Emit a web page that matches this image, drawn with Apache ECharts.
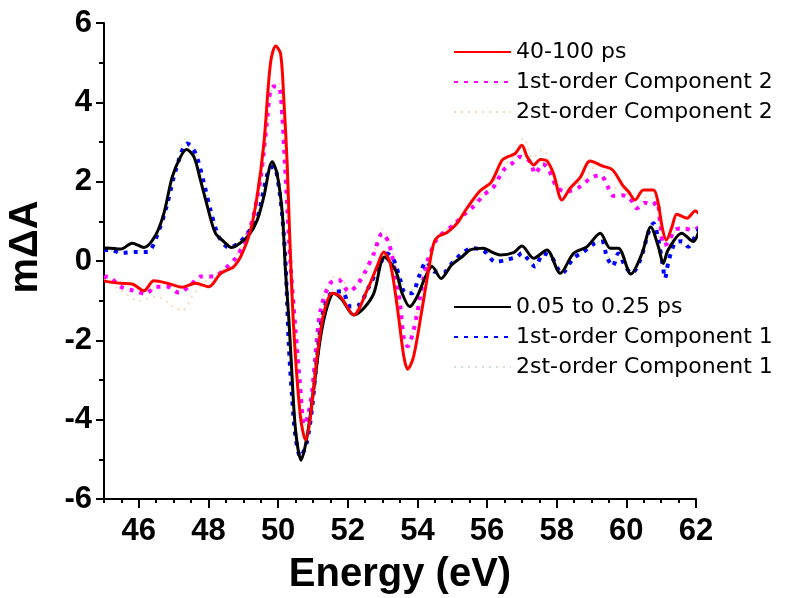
<!DOCTYPE html>
<html>
<head>
<meta charset="utf-8">
<script src="https://cdn.jsdelivr.net/npm/echarts@6/dist/echarts.min.js"></script>
<style>
  html, body { margin: 0; padding: 0; background: #fff; }
  #chart { width: 788px; height: 598px; }
</style>
</head>
<body>
<div id="chart"></div>
<script>
// Transient absorption spectra (mΔA vs photon energy) and fitted components

// 40-100 ps spectrum
const eLate = [45.0,45.1,45.48,45.81,46.15,46.43,46.82,47.25,47.63,48.01,48.35,48.73,48.97,49.21,49.4,49.59,49.78,49.93,50.07,50.16,50.26,50.33,50.45,50.64,50.79,50.93,51.12,51.31,51.55,51.79,52.17,52.56,52.84,53.03,53.22,53.42,53.61,53.72,53.89,54.13,54.32,54.47,54.6,54.85,55.14,55.42,55.8,56.12,56.43,56.6,56.81,57.0,57.15,57.34,57.53,57.72,57.91,58.15,58.39,58.67,58.96,59.3,59.6,59.9,60.06,60.25,60.49,60.78,60.9,61.04,61.15,61.31,61.45,61.74,61.98,62.12];
const vLate = [-0.5,-0.52,-0.56,-0.58,-0.75,-0.5,-0.56,-0.66,-0.56,-0.65,-0.31,-0.14,0.19,0.78,1.65,2.95,4.98,5.42,5.23,4.14,2.46,0.7,-1.74,-3.92,-4.51,-3.92,-2.41,-1.32,-0.81,-0.9,-1.36,-0.73,-0.14,0.23,-0.06,-1.15,-2.41,-2.73,-2.41,-1.23,-0.23,0.45,0.62,0.72,0.95,1.33,1.77,1.99,2.54,2.63,2.71,2.92,2.63,2.42,2.56,2.52,2.2,1.54,1.84,2.1,2.52,2.4,2.3,1.9,1.75,1.54,1.79,1.79,1.52,0.8,0.53,0.86,1.18,1.08,1.26,1.16];

// 1st-order Component 2
const eC2 = [45.0,45.1,45.48,45.86,46.2,46.48,46.82,47.15,47.49,47.77,48.16,48.49,48.78,49.02,49.26,49.4,49.5,49.6,49.7,49.78,49.88,50.03,50.12,50.18,50.26,50.35,50.5,50.62,50.75,50.87,50.98,51.07,51.22,51.5,51.74,52.03,52.27,52.5,52.75,52.99,53.18,53.37,53.51,53.61,53.72,53.89,54.08,54.27,54.52,54.66,55.04,55.33,55.61,55.9,56.19,56.47,56.72,56.95,57.24,57.38,57.6,57.77,58.0,58.24,58.67,58.96,59.25,59.49,59.63,59.87,60.1,60.3,60.54,60.73,60.88,60.97,61.07,61.2,61.39,61.63,61.92,62.12];
const vC2 = [-0.42,-0.39,-0.65,-0.75,-0.83,-0.65,-0.65,-0.8,-0.6,-0.39,-0.39,-0.18,0.07,0.45,1.03,1.6,2.1,2.85,3.7,4.3,4.4,4.38,3.63,2.7,1.4,0.0,-1.74,-3.0,-4.13,-3.85,-3.25,-2.41,-1.23,-0.56,-0.48,-0.77,-0.6,-0.27,0.19,0.7,0.45,-0.31,-1.15,-1.95,-2.15,-1.74,-0.9,-0.06,0.5,0.65,0.91,1.16,1.37,1.66,1.87,2.29,2.46,2.63,2.5,2.2,2.45,2.3,1.87,1.75,1.87,2.08,2.17,1.83,1.64,1.66,1.58,1.33,1.47,1.41,1.49,0.95,0.4,0.45,0.78,0.82,0.78,0.88];

// 2st-order Component 2
const eC2b = [45.0,45.5,46.0,46.5,47.0,47.25,47.6,48.0,48.5,49.0,49.3,49.5,49.7,49.9,50.05,50.2,50.35,50.5,50.7,50.8,51.0,51.2,51.5,51.75,52.05,52.3,52.55,52.8,53.0,53.2,53.4,53.6,53.75,53.9,54.1,54.3,54.55,54.9,55.3,55.6,55.9,56.2,56.5,56.8,57.05,57.3,57.6,57.8,58.0,58.3,58.7,59.0,59.25,59.5,59.9,60.2,60.5,60.85,61.05,61.2,61.5,61.9,62.1];
const vC2b = [-0.45,-0.75,-1.0,-0.9,-1.15,-1.25,-0.8,-0.45,-0.15,0.45,1.1,2.0,3.6,4.5,4.45,2.5,0.1,-1.8,-3.9,-4.15,-3.2,-1.3,-0.45,-0.4,-0.7,-0.5,-0.15,0.35,0.8,0.5,-0.4,-2.0,-2.2,-1.7,-0.8,0.05,0.6,0.85,1.2,1.45,1.75,2.0,2.4,2.7,3.1,2.6,2.8,2.5,1.95,1.85,2.0,2.3,2.5,1.9,1.8,1.55,1.6,1.55,0.5,0.5,0.85,0.85,0.9];

// 0.05 to 0.25 ps spectrum
const eEarly = [45.0,45.1,45.48,45.81,46.15,46.48,46.72,46.96,47.2,47.37,47.58,47.77,47.97,48.2,48.44,48.66,48.92,49.16,49.4,49.59,49.83,49.97,50.12,50.21,50.31,50.38,50.5,50.66,50.83,51.02,51.22,51.41,51.6,51.84,52.17,52.46,52.75,53.05,53.37,53.56,53.78,53.99,54.23,54.42,54.68,54.98,55.3,55.52,55.9,56.15,56.38,56.76,57.0,57.34,57.72,58.1,58.48,58.87,59.25,59.54,59.77,60.13,60.45,60.7,60.92,61.06,61.2,61.59,61.92,62.12];
const vEarly = [0.32,0.33,0.3,0.45,0.34,0.65,1.2,2.12,2.63,2.81,2.63,2.04,1.37,0.7,0.49,0.34,0.46,0.65,1.03,1.62,2.5,2.2,1.2,-0.23,-1.49,-2.58,-4.26,-5.02,-4.43,-3.25,-1.91,-1.15,-0.81,-0.98,-1.36,-1.19,-0.81,0.1,-0.23,-0.81,-1.15,-0.9,-0.4,-0.14,-0.44,-0.1,0.12,0.28,0.32,0.22,0.15,0.21,0.38,0.07,0.28,-0.31,0.19,0.36,0.7,0.32,0.32,-0.33,0.19,0.86,0.36,-0.06,0.28,0.7,0.49,0.86];

// 1st-order Component 1
const eC1 = [45.0,45.14,45.53,45.96,46.25,46.58,46.82,47.06,47.39,47.63,47.87,48.06,48.3,48.59,48.87,49.16,49.4,49.59,49.73,49.88,50.02,50.12,50.21,50.31,50.4,50.5,50.64,50.82,50.98,51.12,51.31,51.6,51.84,52.08,52.32,52.61,52.9,53.13,53.32,53.51,53.65,53.85,54.04,54.26,54.5,54.78,54.99,55.28,55.57,55.9,56.24,56.57,56.86,57.0,57.19,57.38,57.62,57.85,58.15,58.48,58.77,59.06,59.3,59.44,59.61,59.77,59.97,60.16,60.4,60.63,60.78,60.92,61.05,61.11,61.2,61.39,61.6,61.78,61.97,62.12];
const vC1 = [0.28,0.28,0.21,0.23,0.23,0.78,1.45,2.29,2.96,2.71,1.96,1.28,0.61,0.34,0.45,0.74,1.08,1.8,2.29,2.38,1.87,1.12,0.0,-2.16,-3.42,-4.43,-4.93,-4.59,-3.67,-2.41,-1.23,-0.77,-0.77,-1.15,-1.11,-0.65,-0.14,0.19,0.03,-0.48,-0.81,-0.81,-0.4,-0.02,-0.27,-0.27,-0.06,0.19,0.32,0.26,-0.02,0.03,0.11,0.2,0.03,-0.14,0.19,0.1,-0.31,0.07,0.23,0.43,0.49,0.11,-0.13,0.19,-0.14,-0.31,0.03,0.7,0.95,0.53,-0.14,-0.44,-0.06,0.45,0.5,0.36,0.61,0.88];

// 2st-order Component 1
const eC1b = [45.0,45.5,46.0,46.3,46.6,46.85,47.05,47.35,47.6,47.85,48.1,48.35,48.6,48.9,49.15,49.4,49.6,49.8,49.95,50.1,50.2,50.3,50.45,50.62,50.8,51.0,51.15,51.35,51.6,51.85,52.1,52.35,52.65,52.9,53.1,53.3,53.5,53.7,53.9,54.1,54.3,54.55,54.8,55.0,55.3,55.6,55.9,56.25,56.6,56.9,57.2,57.4,57.65,58.15,58.5,58.8,59.1,59.3,59.45,59.65,59.8,60.0,60.17,60.4,60.65,60.8,60.95,61.1,61.2,61.4,61.8,62.1];
const vC1b = [0.3,0.22,0.25,0.3,0.85,1.6,2.4,3.08,2.8,2.0,1.25,0.6,0.38,0.5,0.8,1.15,1.85,2.4,2.3,1.3,0.2,-2.0,-3.9,-4.9,-4.6,-3.5,-2.2,-1.1,-0.7,-0.72,-1.1,-1.05,-0.6,-0.1,0.25,0.1,-0.4,-0.75,-0.7,-0.3,0.05,-0.2,-0.25,0.0,0.22,0.35,0.3,0.02,0.06,0.15,0.0,-0.1,0.22,-0.3,0.1,0.26,0.45,0.5,0.15,-0.1,0.2,-0.1,-0.3,0.05,0.72,0.9,0.5,-0.4,-0.05,0.45,0.38,0.85];

// Axis ticks
const xMajorTicks = [46, 48, 50, 52, 54, 56, 58, 60, 62];

const FONT = 'Arial, "Liberation Sans", Helvetica, sans-serif';
const LEGEND_FONT = '"DejaVu Sans", Arial, sans-serif';

function pairs(xs, ys) {
  return xs.map(function (x, i) { return [x, ys[i]]; });
}

function lineSeries(name, xs, ys, color, width, type, z) {
  return {
    name: name,
    type: 'line',
    data: pairs(xs, ys),
    xAxisIndex: 0,
    yAxisIndex: 0,
    symbol: 'none',
    showSymbol: false,
    smooth: 0.3,
    clip: false,
    z: z,
    lineStyle: { color: color, width: width, type: type, cap: 'butt' },
    itemStyle: { color: color },
    emphasis: { disabled: true }
  };
}

function legendBlock(names, top) {
  return {
    data: names,
    orient: 'vertical', left: 453, top: top, padding: 0,
    itemWidth: 57, itemHeight: 14, itemGap: 8,
    itemStyle: { opacity: 0, borderWidth: 0 },
    lineStyle: { opacity: 1 },
    textStyle: { fontSize: 22, fontFamily: LEGEND_FONT, color: '#000', lineHeight: 22 },
    selectedMode: false
  };
}

const chart = echarts.init(document.getElementById('chart'), null, { renderer: 'canvas' });

const axisLineStyle = { color: '#000', width: 2 };

chart.setOption({
  animation: false,
  backgroundColor: '#fff',
  grid: { left: 104, right: 92, top: 23, bottom: 99, containLabel: false },
  xAxis: [
    {
      type: 'value', min: 45, max: 62,
      axisLine: { show: true, onZero: false, lineStyle: axisLineStyle },
      axisTick: { show: true, customValues: xMajorTicks, length: 9, inside: false, lineStyle: axisLineStyle },
      axisLabel: {
        customValues: xMajorTicks, margin: 17,
        fontSize: 31, fontWeight: 'bold', fontFamily: FONT, color: '#000'
      },
      splitLine: { show: false }
    },
    {
      type: 'value', min: 45, max: 62, interval: 0.5, position: 'bottom',
      axisLine: { show: false, onZero: false },
      axisTick: { show: true, length: 4, inside: false, lineStyle: axisLineStyle },
      axisLabel: { show: false },
      splitLine: { show: false }
    }
  ],
  yAxis: {
    type: 'value', min: -6, max: 6, interval: 2,
    axisLine: { show: true, onZero: false, lineStyle: axisLineStyle },
    axisTick: { show: true, length: 8, inside: false, lineStyle: axisLineStyle },
    minorTick: { show: true, splitNumber: 2, length: 5, lineStyle: axisLineStyle },
    axisLabel: {
      margin: 12, fontSize: 31, fontWeight: 'bold', fontFamily: FONT, color: '#000'
    },
    splitLine: { show: false },
    minorSplitLine: { show: false }
  },
  legend: [
    legendBlock(['40-100 ps', '1st-order Component 2', '2st-order Component 2'], 41),
    legendBlock(['0.05 to 0.25 ps', '1st-order Component 1', '2st-order Component 1'], 296)
  ],
  graphic: [
    {
      type: 'text', x: 400, y: 575,
      style: {
        text: 'Energy (eV)', font: 'bold 40px ' + FONT, fill: '#000',
        align: 'center', verticalAlign: 'middle'
      }
    },
    {
      type: 'text', x: 26, y: 247, rotation: Math.PI / 2,
      style: {
        text: 'mΔA', font: 'bold 40px ' + FONT, fill: '#000',
        align: 'center', verticalAlign: 'middle'
      }
    }
  ],
  series: [
    lineSeries('2st-order Component 2', eC2b, vC2b, '#fcd2ac', 1.5, [2, 5], 1),
    lineSeries('2st-order Component 1', eC1b, vC1b, '#c9e6c9', 1.5, [2, 5], 1),
    lineSeries('1st-order Component 2', eC2, vC2, '#ff00ff', 4, [4, 6], 2),
    lineSeries('1st-order Component 1', eC1, vC1, '#0000ff', 4, [4, 6], 2),
    lineSeries('0.05 to 0.25 ps', eEarly, vEarly, '#000000', 3, 'solid', 3),
    lineSeries('40-100 ps', eLate, vLate, '#ff0000', 3, 'solid', 4)
  ]
});
</script>
</body>
</html>
